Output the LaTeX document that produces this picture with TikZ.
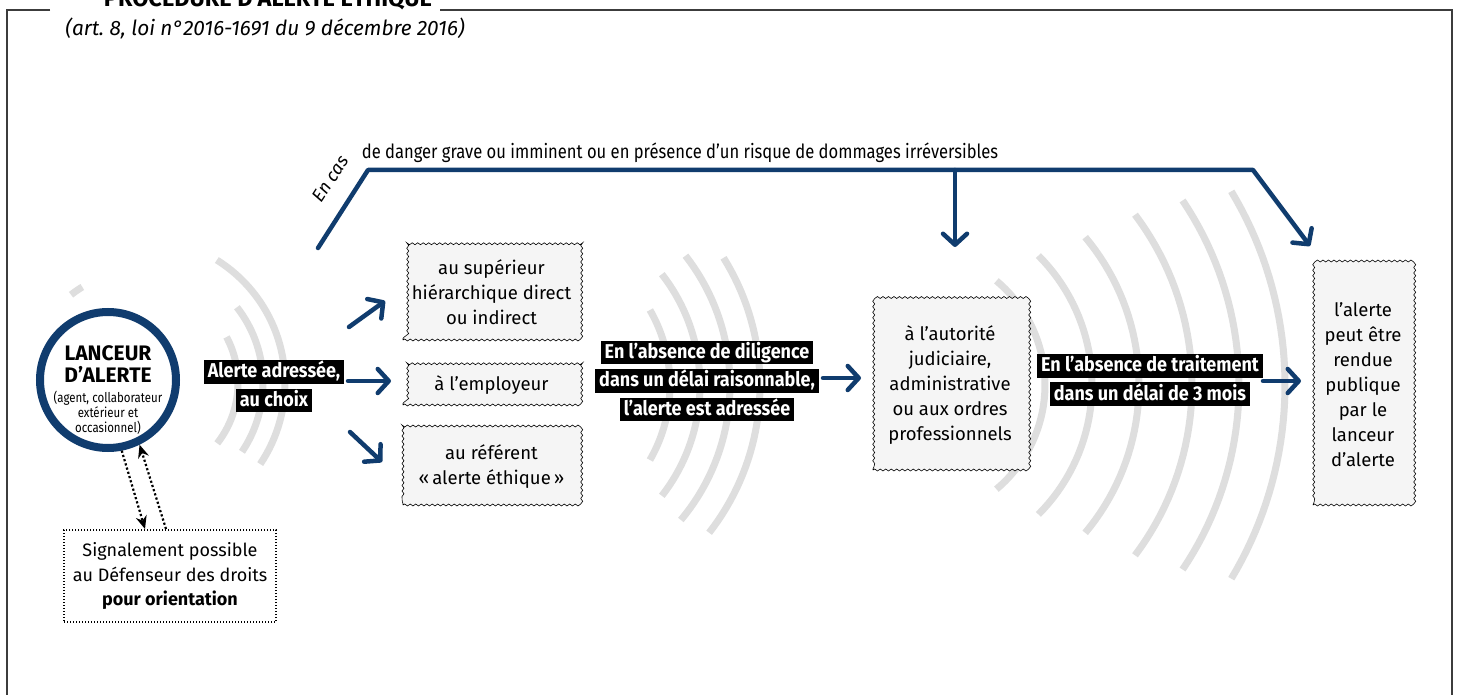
\documentclass[tikz,border=0pt]{standalone}
\usepackage{fontspec}
\setmainfont{Fira Sans}
\newfontfamily\bxf{Fira Sans}
\newfontfamily\cdf{Fira Sans}[FakeStretch=0.85]
\newfontfamily\lbf{Fira Sans}[FakeStretch=0.9]
\usetikzlibrary{decorations.pathmorphing,arrows.meta,calc}
\definecolor{navy}{RGB}{16,60,110}
\definecolor{arcgray}{RGB}{222,222,222}
\definecolor{boxfill}{RGB}{245,245,245}
\definecolor{framecol}{RGB}{60,60,60}
\setlength{\fboxsep}{1pt}
\newcommand\lbl[1]{\colorbox{black}{\rule[-5pt]{0pt}{21.5pt}\hspace{3pt}\textcolor{white}{#1}\hspace{3pt}}}
\begin{document}
\begin{tikzpicture}[x=1pt,y=-1pt,
  arcline/.style={draw=arcgray, line width=7pt},
  wbox/.style={draw=black, line width=0.6pt, fill=boxfill, decorate, decoration={snake, amplitude=1pt, segment length=5.5pt}, inner sep=0pt, align=center, font=\bxf\fontsize{18.5}{25}\selectfont},
  navarrow/.style={draw=navy, line width=4.5pt, line cap=round, line join=round, -{Straight Barb[round,length=11pt,width=24pt]}},
  dotarrow/.style={draw=black, line width=2.2pt, dash pattern=on 2.2pt off 2.2pt, -{Stealth[length=13pt,width=11pt]}},
  lab/.style={align=center, inner sep=0pt, font=\lbf\bfseries\fontsize{20}{28.5}\selectfont}
]
\useasboundingbox (0,0) rectangle (1457,695);
\fill[white] (0,0) rectangle (1457,695);

% gray wave arcs
\foreach \r/\a/\b in {98/-28/38, 123/-38/34, 145/-58/34}
  \draw[arcline] plot[domain=\a:\b, samples=40] ({140+\r*cos(\x)},{383+\r*sin(\x)});
\draw[arcline] plot[domain=-128:-121, samples=10] ({140+112*cos(\x)},{383+112*sin(\x)});
\foreach \r/\a/\b in {150/-30/30, 180/-38/38, 210/-38/40, 240/-32/38}
  \draw[arcline] plot[domain=\a:\b, samples=40] ({520+\r*cos(\x)},{385+\r*sin(\x)});
\foreach \r/\a/\b in {136/-50/50, 183/-45/45, 230/-40/40, 283/-37/37, 330/-34/34, 376/-31/31}
  \draw[arcline] plot[domain=\a:\b, samples=40] ({909+\r*cos(\x)},{385+\r*sin(\x)});

% frame
\draw[framecol, line width=1.5pt] (50,10) -- (7,10) -- (7,695);
\draw[framecol, line width=1.5pt] (440,10) -- (1452,10) -- (1452,695);
\node[font=\bfseries\fontsize{23.5}{28}\selectfont, anchor=base] (title) at (268,7) {PROCÉDURE D’ALERTE ÉTHIQUE};
\node[font=\itshape\fontsize{20.8}{24}\selectfont, anchor=base] (sub) at (265,36) {(art.~8, loi n°2016-1691 du 9 décembre 2016)};

% lanceur
\node[circle, draw=navy, line width=8pt, minimum size=136pt, inner sep=0pt, fill=white] (lanceur) at (108,380) {};
\node[align=center, inner sep=0pt, font=\bfseries\fontsize{21}{22}\selectfont] (ltitle) at (108,364) {LANCEUR\\D’ALERTE};
\node[align=center, inner sep=0pt, font=\cdf\fontsize{13.5}{15}\selectfont] (lsub) at (108,413) {(agent, collaborateur\\extérieur et\\occasionnel)};

% signal box
\node[draw, line width=1.2pt, dash pattern=on 1.2pt off 1.8pt, minimum width=212pt, minimum height=92pt, align=center, inner sep=0pt, font=\bxf\fontsize{18}{24.5}\selectfont] (signal) at (170,576) {Signalement possible\\au Défenseur des droits\\\textbf{pour orientation}};
\coordinate (sa) at (145,529);
\coordinate (sb) at (166,529);
\draw[dotarrow] (lanceur.-79) -- (sa);
\draw[dotarrow] (sb) -- (lanceur.-64);

% boxes
\node[wbox, minimum width=177pt, minimum height=95pt] (sup) at (491.5,292.5) {au supérieur\\hiérarchique direct\\ou indirect};
\node[wbox, minimum width=177pt, minimum height=40pt] (emp) at (491.5,385) {à l’employeur};
\node[wbox, minimum width=177pt, minimum height=77pt] (ref) at (491.5,466.5) {au référent\\«\,alerte éthique\,»};
\node[wbox, minimum width=154pt, minimum height=170pt] (auto) at (950,385) {à l’autorité\\judiciaire,\\administrative\\ou aux ordres\\professionnels};
\node[wbox, minimum width=100pt, minimum height=240pt] (pub) at (1363,385) {l’alerte\\peut être\\rendue\\publique\\par le\\lanceur\\d’alerte};

% labels
\node[lab] (lab1) at (274,386) {\lbl{Alerte adressée,}\\\lbl{au choix}};
\node[lab] (lab2) at (707,381) {\lbl{En l’absence de diligence}\\\lbl{dans un délai raisonnable,}\\\lbl{l’alerte est adressée}};
\node[lab] (lab3) at (1150,380) {\lbl{En l’absence de traitement}\\\lbl{dans un délai de 3 mois}};

% blue arrows
\coordinate (a1s) at (349,327); \coordinate (a1e) at (385,301);
\coordinate (a2s) at (348,381); \coordinate (a2e) at (391,381);
\coordinate (a3s) at (350,432); \coordinate (a3e) at (382,462);
\draw[navarrow] (a1s) -- (a1e);
\draw[navarrow] (a2s) -- (a2e);
\draw[navarrow] (a3s) -- (a3e);
\coordinate (a4s) at (823,378); \coordinate (a4e) at (861,378);
\draw[navarrow] (a4s) -- (a4e);
\coordinate (a5s) at (1263,381); \coordinate (a5e) at (1301,381);
\draw[navarrow] (a5s) -- (a5e);

\coordinate (t0) at (318,248);
\coordinate (t1) at (368,170);
\coordinate (t2) at (955,170);
\coordinate (t3) at (1253,170);
\coordinate (tend) at (1310,246);
\coordinate (dend) at (955,247);
\draw[navarrow] (t0) -- (t1) -- (t3) -- (tend);
\draw[navarrow] (t2) -- (dend);
\node[rotate=57, font=\itshape\fontsize{18}{20}\selectfont, inner sep=0pt] (encas) at (330,179) {En cas};
\node[anchor=base, font=\cdf\fontsize{19.5}{22}\selectfont] (danger) at (680,159) {de danger grave ou imminent ou en présence d’un risque de dommages irréversibles};
\end{tikzpicture}
\end{document}
